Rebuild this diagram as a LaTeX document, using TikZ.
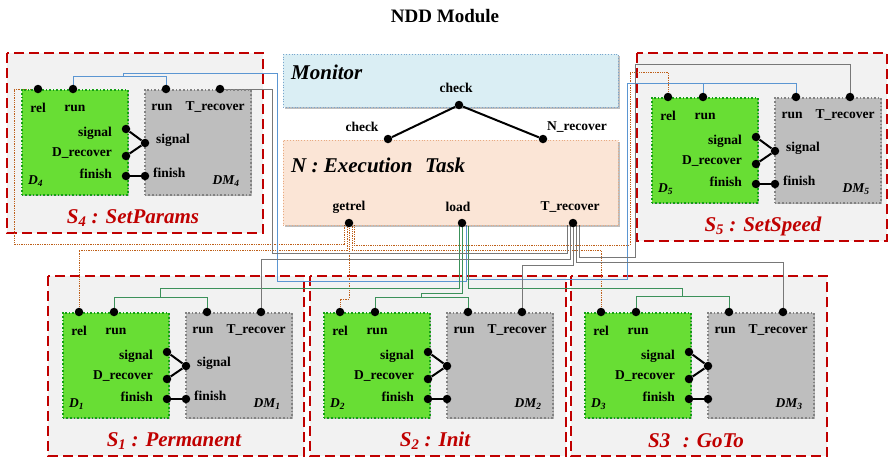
\documentclass[tikz,border=0pt]{standalone}
\usepackage{fontspec}
\setmainfont{Liberation Serif}
\usetikzlibrary{calc,shadows}
\pgfdeclarelayer{bg}
\pgfdeclarelayer{wires}
\pgfsetlayers{bg,wires,main}

\definecolor{framered}{RGB}{192,0,0}
\definecolor{framefill}{RGB}{242,242,242}
\definecolor{dgreen}{RGB}{104,222,52}
\definecolor{dgreenline}{RGB}{20,160,20}
\definecolor{dmgray}{RGB}{190,190,190}
\definecolor{dmline}{RGB}{130,130,130}
\definecolor{monfill}{RGB}{218,238,244}
\definecolor{monline}{RGB}{120,165,205}
\definecolor{nfill}{RGB}{251,229,214}
\definecolor{nline}{RGB}{232,170,130}
\definecolor{wireorange}{RGB}{190,95,25}
\definecolor{wireblue}{RGB}{91,150,210}
\definecolor{wiregreen}{RGB}{60,145,90}
\definecolor{wiregray}{RGB}{120,120,120}

\tikzset{
  lbl/.style={font=\fontsize{13.5}{15}\selectfont\bfseries, inner sep=0pt},
  idx/.style={font=\fontsize{13.5}{15}\selectfont\bfseries\itshape, inner sep=0pt},
  biglbl/.style={font=\fontsize{21}{24}\selectfont\bfseries\itshape, inner sep=0pt},
  slbl/.style={biglbl, text=framered},
  dot/.style={circle, fill=black, inner sep=0pt, minimum size=8.5pt},
  boxshadow/.style={drop shadow={shadow xshift=1.5pt, shadow yshift=-1.5pt, fill=black, opacity=0.25}},
  dbox/.style={anchor=north west, minimum width=106pt, minimum height=105pt, inner sep=0pt,
    fill=dgreen, draw=dgreenline, line width=1.6pt, dotted, boxshadow},
  dmbox/.style={anchor=north west, minimum width=106pt, minimum height=105pt, inner sep=0pt,
    fill=dmgray, draw=dmline, line width=1.6pt, dotted, boxshadow},
  sframe/.style={fill=framefill, draw=framered, line width=1.8pt, dash pattern=on 10pt off 5pt},
  link/.style={line width=2pt, black},
  wire/.style={line width=1pt},
  orw/.style={wire, draw=wireorange, dash pattern=on 1.3pt off 1pt},
  blw/.style={wire, draw=wireblue},
  gnw/.style={wire, draw=wiregreen},
  gyw/.style={wire, draw=wiregray},
}

% One module pair D_i / DM_i with its ports; #1 prefix, #2/#3 top-left of D box,
% #4 index, #5 = 1 to print the DM signal/finish labels, #6 module caption
\newcommand\ndmodule[6]{%
  \begin{scope}[shift={(#2,#3)}]
    \node[dbox] (#1d) at (0,0) {};
    \node[dmbox] (#1dm) at (123,0) {};
    \node[dot] (#1rel) at (17,0) {};
    \node[dot] (#1run) at (52,0) {};
    \node[dot] (#1dmrun) at (145,0) {};
    \node[dot] (#1trec) at (199,0) {};
    \node[dot] (#1sig) at (105,40) {};
    \node[dot] (#1drec) at (105,67) {};
    \node[dot] (#1fin) at (105,87) {};
    \node[dot] (#1dmsig) at (124,54) {};
    \node[dot] (#1dmfin) at (124,87) {};
    \node[lbl] (#1lrel) at (17,19) {rel};
    \node[lbl] (#1lrun) at (54,19) {run};
    \node[lbl] (#1ldmrun) at (141,18) {run};
    \node[lbl] (#1ltrec) at (194,18) {T\_recover};
    \node[lbl, anchor=east] (#1lsig) at (91,44) {signal};
    \node[lbl, anchor=east] (#1ldrec) at (91,64) {D\_recover};
    \node[lbl, anchor=east] (#1lfin) at (91,85) {finish};
    \ifnum#5=1
      \node[lbl, anchor=west] (#1ldmsig) at (135,51) {signal};
      \node[lbl, anchor=west] (#1ldmfin) at (132,84) {finish};
    \fi
    \node[idx, anchor=west] (#1lD) at (7,92) {D\textsubscript{#4}};
    \node[idx] (#1lDM) at (205,92) {DM\textsubscript{#4}};
    \node[slbl] (#1lS) at (112,129) {#6};
    \draw[link] (#1sig) -- (#1dmsig) -- (#1drec);
    \draw[link] (#1fin) -- (#1dmfin);
  \end{scope}}

\begin{document}
\begin{tikzpicture}[x=1pt, y=-1pt]
  \useasboundingbox (0,0) rectangle (890,461);

  % page background and dashed module frames
  \begin{pgfonlayer}{bg}
    \fill[white] (0,0) rectangle (890,461);
    \draw[sframe] (7,53) rectangle (263,233);
    \draw[sframe] (637,53) rectangle (887,241);
    \draw[sframe] (48,276) rectangle (304,456);
    \draw[sframe] (310,276) rectangle (566,456);
    \draw[sframe] (571,276) rectangle (827,456);
  \end{pgfonlayer}

  \node[font=\fontsize{19}{22}\selectfont\bfseries, inner sep=0pt] (title) at (445,16) {NDD Module};

  % monitor and execution task
  \node[anchor=north west, minimum width=335pt, minimum height=53pt, inner sep=0pt,
        fill=monfill, draw=monline, dotted, line width=0.8pt, boxshadow] (monitor) at (283,54) {};
  \node[anchor=north west, minimum width=335pt, minimum height=85pt, inner sep=0pt,
        fill=nfill, draw=nline, dotted, line width=0.8pt, boxshadow] (ntask) at (283,140) {};
  \node[biglbl, anchor=west] (monlbl) at (291,72) {Monitor};
  \node[biglbl, anchor=west] (nlbl) at (291,165) {N : Execution\hspace{0.35em} Task};

  \node[dot] (moncheck) at (459,105) {};
  \node[dot] (ncheck) at (388,139) {};
  \node[dot] (nrec) at (543,139) {};
  \node[dot] (getrel) at (349,223) {};
  \node[dot] (load) at (462,223) {};
  \node[dot] (trec) at (573,223) {};
  \node[lbl] (lmoncheck) at (456,88) {check};
  \node[lbl] (lncheck) at (362,127) {check};
  \node[lbl] (lnrec) at (577,127) {N\_recover};
  \node[lbl] (lgetrel) at (349,207) {getrel};
  \node[lbl] (lload) at (458,207) {load};
  \node[lbl] (ltrec) at (570,207) {T\_recover};
  \draw[link] (ncheck) -- (moncheck) -- (nrec);

  % modules
  \ndmodule{s4}{21}{89}{4}{1}{S\textsubscript{4} : SetParams}
  \ndmodule{s5}{651}{97}{5}{1}{S\textsubscript{5} : SetSpeed}
  \ndmodule{s1}{62}{312}{1}{1}{S\textsubscript{1} : Permanent}
  \ndmodule{s2}{323}{312}{2}{0}{S\textsubscript{2} : Init}
  \ndmodule{s3}{584}{312}{3}{0}{S3\hspace{0.6em}: GoTo}

  \begin{pgfonlayer}{wires}
    % getrel -> rel ports
    \draw[orw] (s4rel.center) -- (14,89) -- (14,244) -| ($(getrel)+(-5,0)$);
    \draw[orw] (s1rel.center) -- (79,250) -| ($(getrel)+(-2,0)$);
    \draw[orw] (s2rel.center) -- (340,299) -| (getrel.center);
    \draw[orw] (s3rel.center) -- (601,250) -| ($(getrel)+(3,0)$);
    \draw[orw] (s5rel.center) -- (668,72) -- (630,72) -- (630,245) -| ($(getrel)+(5,0)$);

    % load -> run ports of S4 and S5
    \draw[blw] (s4run.center) -- (73,76) -- (166,76) -- (s4dmrun.center);
    \draw[blw] (123,76) -- (123,73) -- (277,73) -- (277,281) -| ($(load)+(4,0)$);
    \draw[blw] (s5dmrun.center) -- (796,83) -- (627,83) -- (627,279) -| ($(load)+(4,0)$);
    \draw[blw] (s5run.center) -- (703,83);

    % load -> run ports of S1, S2, S3
    \draw[gnw] (s1run.center) -- (114,297) -- (207,297) -- (s1dmrun.center);
    \draw[gnw] (160,297) -- (160,288) -| ($(load)+(-3,0)$);
    \draw[gnw] (s2run.center) -- (375,297) -- (468,297) -- (s2dmrun.center);
    \draw[gnw] (421,297) -- (421,293) -| (load.center);
    \draw[gnw] (s3run.center) -- (636,296) -- (729,296) -- (s3dmrun.center);
    \draw[gnw] (682,296) -- (682,288) -| ($(load)+(6,0)$);

    % T_recover -> DM ports
    \draw[gyw] (s4trec.center) -- (272,89) -- (272,253) -| ($(trec)+(-6,0)$);
    \draw[gyw] (s1trec.center) -- (261,259) -| ($(trec)+(-3,0)$);
    \draw[gyw] (s2trec.center) -- (522,265) -| (trec.center);
    \draw[gyw] (s3trec.center) -- (783,262) -| ($(trec)+(3,0)$);
    \draw[gyw] (s5trec.center) -- (850,64) -- (635,64) -- (635,257) -| ($(trec)+(6,0)$);
  \end{pgfonlayer}
\end{tikzpicture}
\end{document}
